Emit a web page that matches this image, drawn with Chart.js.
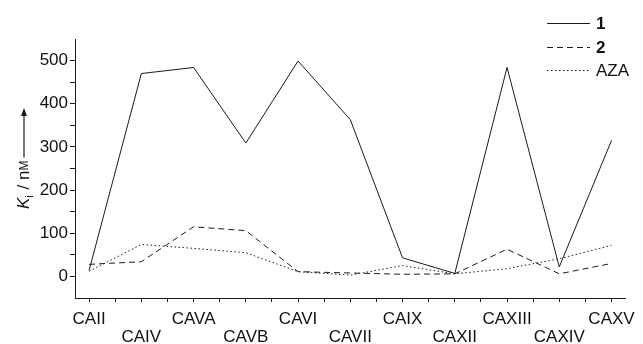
<!DOCTYPE html>
<html><head><meta charset="utf-8">
<script src="https://cdn.jsdelivr.net/npm/chart.js@4"></script>
<style>html,body{margin:0;padding:0;background:#fff}#wrap{width:643px;height:344px}</style>
</head><body><div id="wrap"><canvas id="c" width="643" height="344"></canvas></div>
<script>
const categories = ['CAII','CAIV','CAVA','CAVB','CAVI','CAVII','CAIX','CAXII','CAXIII','CAXIV','CAXV'];
const series1 = [14, 470, 484, 309, 499, 363, 43, 7, 484, 22, 315];
const series2 = [28, 34, 115, 106, 11, 8, 5, 6, 63, 6, 30];
const seriesAZA = [12, 74, 65, 55, 11, 3, 25, 6, 18, 41, 72];
const seriesLabels = ['1', '2', 'AZA'];
const yMajorTicks = [0, 100, 200, 300, 400, 500];

const FONT = 'Liberation Sans';
const INK = '#1a1a1a';

function makeDs(label, values, dash) {
  return {
    label: label,
    data: values.map((v, i) => ({x: i, y: v})),
    borderColor: INK, borderWidth: 1, borderDash: dash,
    pointRadius: 0, tension: 0, fill: false
  };
}

const legendPlugin = {
  id: 'customLegend',
  afterDraw(chart) {
    const ctx = chart.ctx;
    ctx.save();
    const rows = [23, 47, 70];
    chart.data.datasets.forEach((d, i) => {
      const y = rows[i];
      ctx.strokeStyle = INK; ctx.lineWidth = 1;
      ctx.setLineDash(d.borderDash || []);
      ctx.beginPath(); ctx.moveTo(547, y + 0.5); ctx.lineTo(590, y + 0.5); ctx.stroke();
      ctx.setLineDash([]);
      ctx.fillStyle = '#111';
      ctx.textBaseline = 'middle'; ctx.textAlign = 'left';
      ctx.font = (d.label === 'AZA' ? '' : 'bold ') + '17px "' + FONT + '"';
      ctx.fillText(d.label, 596, y + 1);
    });
    ctx.restore();
  }
};

const yTitlePlugin = {
  id: 'yTitle',
  afterDraw(chart) {
    const ctx = chart.ctx;
    ctx.save();
    ctx.translate(24, 0);
    ctx.rotate(-Math.PI / 2);
    ctx.fillStyle = '#111';
    ctx.textBaseline = 'middle'; ctx.textAlign = 'left';
    let u = -209;
    ctx.font = 'italic 17px "' + FONT + '"';
    ctx.fillText('K', u, 0); u += ctx.measureText('K').width;
    ctx.font = '11px "' + FONT + '"';
    ctx.fillText('i', u, 6); u += ctx.measureText('i').width + 1;
    ctx.font = '17px "' + FONT + '"';
    ctx.fillText(' / n', u, 0); u += ctx.measureText(' / n').width;
    ctx.font = '12px "' + FONT + '"';
    ctx.fillText('M', u, 1); u += ctx.measureText('M').width;
    const a0 = u + 3, a1 = -108;
    ctx.strokeStyle = INK; ctx.lineWidth = 1.2;
    ctx.beginPath(); ctx.moveTo(a0, 0); ctx.lineTo(a1 - 5, 0); ctx.stroke();
    ctx.fillStyle = INK;
    ctx.beginPath(); ctx.moveTo(a1, 0); ctx.lineTo(a1 - 8, -3); ctx.lineTo(a1 - 8, 3); ctx.closePath(); ctx.fill();
    ctx.restore();
  }
};

new Chart(document.getElementById('c'), {
  type: 'line',
  data: {
    datasets: [
      makeDs(seriesLabels[0], series1, []),
      makeDs(seriesLabels[1], series2, [6, 4]),
      makeDs(seriesLabels[2], seriesAZA, [1.5, 2.5])
    ]
  },
  options: {
    responsive: false, animation: false,
    layout: {padding: {top: 39, right: 13, left: 0, bottom: 0}},
    plugins: {legend: {display: false}, tooltip: {enabled: false}},
    scales: {
      x: {
        type: 'linear', min: -0.27, max: 10.27,
        afterBuildTicks: s => { const t = []; for (let v = 0; v <= 20; v++) t.push({value: v / 2}); s.ticks = t; },
        afterFit: s => { s.height = 46; },
        grid: {drawOnChartArea: false, tickLength: 4, color: INK, tickColor: INK},
        border: {display: true, color: INK, width: 1},
        ticks: {
          autoSkip: false, maxRotation: 0, minRotation: 0, padding: 8, color: '#111',
          font: {family: FONT, size: 17, lineHeight: 1.06},
          callback: (v) => {
            if (!Number.isInteger(v)) return '';
            const l = categories[v];
            return v % 2 === 0 ? [l] : ['', l];
          }
        }
      },
      y: {
        min: -50, max: 550,
        afterBuildTicks: s => { const t = []; for (let v = 0; v <= 500; v += 50) t.push({value: v}); s.ticks = t; },
        afterFit: s => { s.width = 75; },
        grid: {drawOnChartArea: false, tickLength: 5, color: INK, tickColor: INK},
        border: {display: true, color: INK, width: 1},
        ticks: {
          padding: 2, color: '#111', font: {family: FONT, size: 17},
          callback: v => yMajorTicks.includes(v) ? String(v) : ''
        }
      }
    }
  },
  plugins: [legendPlugin, yTitlePlugin]
});
</script>
</body></html>
